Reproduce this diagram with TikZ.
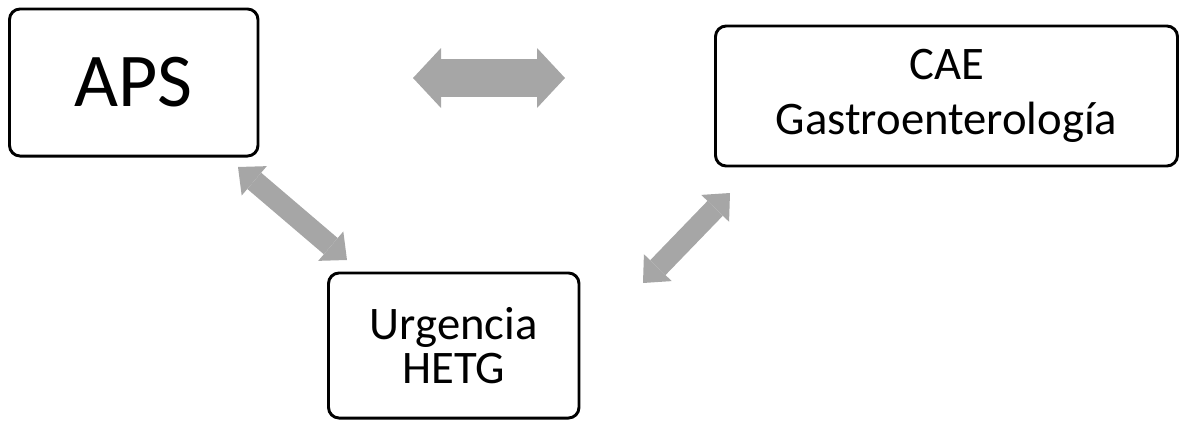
\documentclass[tikz,border=0pt]{standalone}
\usepackage{fontspec}
\setmainfont{Carlito}
\usetikzlibrary{arrows.meta}

\begin{document}
\begin{tikzpicture}[x=0.75pt,y=0.75pt,yscale=-1,xscale=1,
    box/.style={draw, line width=2.2pt, rounded corners=8pt, align=center, inner sep=0pt},
    link/.style={draw=black!35, line width=28pt, line cap=butt,
        arrows={Triangle[length=21pt,width=45pt,line width=0pt]-Triangle[length=21pt,width=45pt,line width=0pt]}},
    slink/.style={draw=black!35, line width=16pt, line cap=butt,
        arrows={Triangle[length=16pt,width=29pt,line width=0pt]-Triangle[length=16pt,width=29pt,line width=0pt]}}]
        \useasboundingbox (0,0) rectangle (1179,421);
        
        % Boxes
        \node [box, minimum width=186.4pt, minimum height=110.3pt, font={\fontsize{57}{60}\selectfont}] (aps) at (133.75,82.5) {APS};
        \node [box, minimum width=346.5pt, minimum height=105pt, font={\fontsize{35}{41}\selectfont}] (cae) at (946.5,96) {CAE\\Gastroenterología};
        \node [box, minimum width=187.9pt, minimum height=108.8pt, font={\fontsize{35}{33}\selectfont}] (urg) at (453.75,345.5) {Urgencia\\HETG};
        
        % Arrow ends
        \coordinate (apsR) at (413,78);
        \coordinate (caeL) at (565,78);
        \coordinate (apsB) at (238,167);
        \coordinate (urgL) at (347,260);
        \coordinate (caeB) at (730,193);
        \coordinate (urgR) at (643,283);
        
        % Double arrows
        \draw [link] (apsR) -- (caeL);
        \draw [slink] (apsB) -- (urgL);
        \draw [slink] (caeB) -- (urgR);
        
\end{tikzpicture}
\end{document}
